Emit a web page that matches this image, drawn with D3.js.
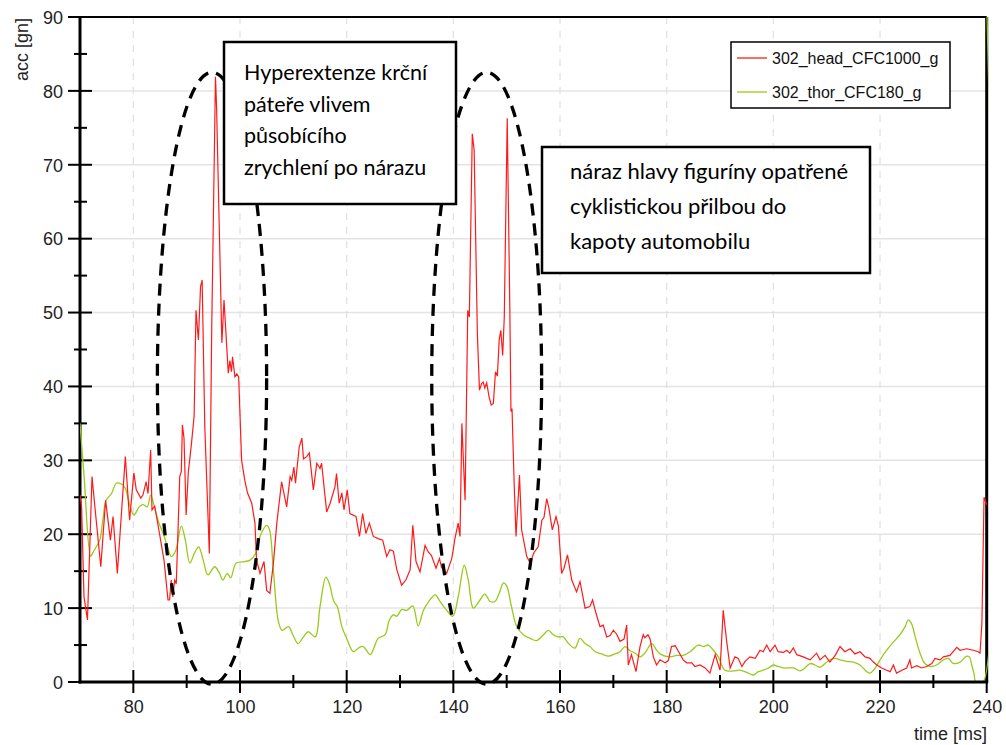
<!DOCTYPE html>
<html><head><meta charset="utf-8">
<script src="https://cdn.jsdelivr.net/npm/d3@7"></script>
<style>
html,body{margin:0;padding:0;background:#fff;}
svg{display:block;}
</style></head>
<body><svg id="chart" width="1006" height="745"></svg>
<script>
// ---------- data ----------
const seriesNames = ["302_head_CFC1000_g", "302_thor_CFC180_g"];
const xTicks = [80, 100, 120, 140, 160, 180, 200, 220, 240];
const yTicks = [0, 10, 20, 30, 40, 50, 60, 70, 80, 90];
const headTime = [70.0,70.3,70.75,71.4,72.25,72.9,73.9,74.8,75.7,76.2,77.0,78.5,79.3,80.1,80.55,81.4,81.8,82.4,82.75,83.25,83.5,84.0,84.3,84.9,85.75,86.5,86.8,87.1,87.4,87.75,88.05,88.4,88.7,89.0,89.2,89.5,89.9,90.3,90.9,91.4,91.75,92.2,92.6,92.9,93.4,94.25,94.7,95.4,95.6,96.6,97.0,97.8,98.1,98.4,98.6,99.05,99.4,99.75,100.3,100.9,101.4,102.2,102.8,103.1,103.75,104.5,105.0,105.6,106.25,106.9,107.8,108.75,109.4,109.7,110.1,110.4,111.1,111.6,111.9,112.5,113.0,113.75,114.4,115.0,115.3,116.25,116.9,117.8,118.1,118.6,119.1,119.5,120.1,120.6,121.75,122.4,123.0,123.6,124.25,125.0,125.9,126.75,127.5,128.1,128.75,129.4,130.3,131.1,131.9,132.4,133.0,133.75,134.7,135.3,135.9,136.75,137.4,137.8,138.75,139.7,140.3,140.9,141.25,141.6,142.2,142.7,143.0,143.55,143.9,144.5,144.9,145.3,145.6,145.9,146.25,146.7,147.1,147.5,147.9,148.25,148.6,148.9,149.25,149.55,150.1,150.6,150.8,151.0,151.4,151.75,152.4,152.8,153.75,154.4,155.1,155.9,156.6,157.0,157.5,157.9,158.55,159.25,159.7,160.3,160.75,161.4,162.2,163.1,163.75,164.7,165.6,166.1,166.75,167.5,168.1,168.75,169.4,170.0,170.6,171.25,172.0,172.5,172.8,173.4,174.25,175.0,175.6,175.9,176.5,176.9,177.5,178.1,178.75,179.7,180.3,180.9,181.6,182.4,183.1,183.75,184.7,185.3,186.25,187.2,188.1,189.1,190.0,190.6,191.25,191.9,192.8,193.4,194.1,194.7,195.6,196.6,197.5,198.1,198.75,199.4,200.3,200.9,201.9,202.5,203.1,203.75,204.4,205.6,206.9,208.1,208.75,209.7,210.6,211.6,212.5,213.4,214.4,215.3,216.25,217.2,218.1,218.75,219.4,220.3,221.25,221.9,222.5,223.1,224.1,225.0,225.6,225.9,226.9,227.8,228.75,229.7,230.3,231.25,231.9,233.1,234.4,235.0,236.25,237.5,238.4,238.75,239.1,239.5,240.0];
const headAcc = [25.3,23.7,11.5,8.4,27.8,22.9,15.6,24.6,19.2,22.4,14.7,30.5,21.9,28.3,26,24.9,25.3,27.1,25.5,31.4,23.3,23.8,22.6,20.1,16.5,11.1,11.1,13.8,11.5,13.8,13.3,21,27.8,28.5,34.8,33,22.6,28.3,32.3,36,50.3,46.3,53.5,54.4,34.5,17.4,48,81.9,78,45.9,51.7,41.8,43.5,42,44,41.3,41.7,41.3,30,27.3,25.6,24.2,21.5,16.5,14.7,16.3,12.4,12,16,21.5,27.1,23.7,27.8,27.3,29.1,26.9,31.8,33,30.2,30.5,31,26,29.6,28.9,29.6,23.0,24.2,26.4,28.2,24.2,25.6,23.3,26,22.8,22.4,19.7,22.8,20.1,21.5,19.7,19.4,19.2,17,17.9,17.7,15.2,13.1,13.8,15.2,21.2,16.3,14.9,18.5,17.6,17.1,15.4,16.7,15.5,14.7,16.7,19.4,21.5,19.7,35,24.6,50.3,49.4,74.2,72,47.2,39.5,40.4,40.6,39.8,40.5,38.6,37.5,37.7,42,41.4,46.3,47.6,44.2,49.4,76.3,49.9,36.6,37.0,26.9,19.7,28,20.6,17,16.1,17.5,18.3,21.9,22.3,24.8,23.6,20.6,22.4,21.1,14.7,15.4,17.2,13.8,12.2,13.6,10,10.2,11.1,9.3,7.5,7.7,6.1,6.3,7.0,6.5,5.5,5.8,7.7,2.3,3.7,1.4,4.8,6.4,6.0,6.4,5.8,3.4,2.3,3.0,2.6,2.9,4.8,4.9,3.9,3.0,2.6,2.6,2.1,2.3,1.9,1.2,3.7,1.6,9.7,5.5,1.9,3.4,3.2,2.1,2.8,3.4,3.2,4.3,4.1,5.0,4.1,5.0,4.1,4.0,4.3,3.9,4.6,3.7,3.4,3.0,3.9,3.0,3.6,2.7,3.6,4.8,4.1,4.5,3.8,4.1,3.4,3.2,2.7,2.3,1.9,1.6,1.4,2.3,1.2,1.6,1.9,3.0,1.9,2.2,1.9,2.1,2.5,3.2,3.0,3.4,3.6,4.7,4.3,4.5,4.3,4.1,3.9,8,25,24];
const thorTime = [70,70.75,72.0,72.4,73.05,73.7,74.3,74.9,75.9,76.8,77.75,78.5,79.1,80.1,81.1,81.8,82.6,83.25,84.1,84.8,85.6,86.4,87.1,87.9,89.0,89.75,90.6,91.5,92.25,93.1,94.0,95.25,96.1,96.8,97.6,98.25,99.3,100.9,101.9,103.0,103.75,105.0,105.5,106.25,107.2,107.9,109.1,109.9,110.9,111.9,112.8,114.1,115.0,116.1,116.75,117.6,118.25,119.1,120.0,121.25,122.2,123.1,124.4,125.1,125.9,127.2,128.0,128.75,129.4,130.3,131.25,132.4,133.4,134.4,135.3,136.6,137.5,138.75,139.9,140.9,142.05,142.8,143.75,145.0,145.9,146.9,147.8,148.6,149.4,150.0,150.9,151.9,153.1,154.4,155.6,156.9,157.8,158.75,159.7,160.6,161.6,162.8,163.75,164.7,165.6,166.6,167.8,169.1,170.3,171.25,172.2,173.0,174.1,175.0,175.9,177.2,178.1,179.0,180.6,181.9,183.1,184.4,185.9,186.9,187.8,188.75,189.7,190.9,192.5,193.75,195.0,196.25,197.2,198.1,199.1,200.0,200.9,201.9,203.75,205.0,205.9,206.9,207.8,208.75,209.7,210.6,211.6,212.5,213.75,215.0,216.25,217.5,218.1,219.1,220.0,221.25,222.5,223.75,224.7,225.3,225.9,226.6,227.5,228.4,229.4,230.6,231.9,232.8,233.75,235.0,236.25,236.75,237.2,237.6,238.0,239.3,240.0];
const thorAcc = [35,28,17,17.5,18.3,19.2,22,24.6,25.5,26.9,26.8,26.2,24.6,22.6,23.7,24.0,23.7,25.3,23.3,21.5,20.1,18.3,17,17.7,21.1,19.2,16.1,17.5,18.3,16.5,14.5,15.6,14.8,13.8,14.7,14.1,16.1,16.3,16.5,17.5,19.7,21.2,20.7,15.2,8.2,7.0,7.5,6.4,5.2,6.1,6.8,6.1,10.2,14.2,13.3,10.9,10.2,7.5,5.9,4.1,4.6,4.8,3.7,4.6,5.9,6.4,8.4,9.1,8.9,9.8,9.7,10.3,7.6,9.7,10.8,11.8,10.9,9.7,8.9,11.5,15.8,13.8,10.0,11.1,11.9,10.9,10.9,12.0,13.4,13.0,10.2,7.5,6.4,5.9,5.6,6.4,7.0,6.4,6.1,6.1,5.2,4.6,5.9,5.2,4.8,4.1,3.8,3.5,3.8,4.1,4.8,4.3,3.9,3.4,3.9,5.2,4.3,3.7,3.4,3.6,3.6,4.1,5.0,4.8,5.0,4.3,3.4,1.6,1.5,1.6,1.3,0.95,1.4,1.6,1.9,2.3,2.1,1.9,1.9,1.5,1.9,2.5,2.3,2.0,2.5,3.0,3.2,3.0,2.8,2.7,2.3,1.4,1.2,1.9,3.0,4.3,5.4,6.4,7.5,8.4,7.9,6.1,3.9,2.5,2.1,2.3,3.0,3.2,2.5,2.7,3.5,3.4,2.3,1.2,0,0,92];
const note1Lines = ["Hyperextenze krční", "páteře vlivem", "působícího", "zrychlení po nárazu"];
const note2Lines = ["náraz hlavy figuríny opatřené", "cyklistickou přilbou do", "kapoty automobilu"];
const axisTitles = {x: "time [ms]", y: "acc [gn]"};

// ---------- setup ----------
const colors = ["#ff1a1a", "#99c91c"];
const L = 80, R = 986.7, T = 17, B = 682;
const x = d3.scaleLinear().domain([70, 240]).range([L, R]);
const y = d3.scaleLinear().domain([0, 90]).range([B, T]);
const svg = d3.select("#chart");
const font = "'Liberation Sans', Arial, sans-serif";

// clip
svg.append("defs").append("clipPath").attr("id", "plotclip")
  .append("rect").attr("x", L).attr("y", T).attr("width", R - L + 1.5).attr("height", B - T);

// grid
const grid = svg.append("g");
grid.selectAll("line.h").data(yTicks.filter(d => d > 0 && d < 90)).join("line")
  .attr("x1", L).attr("x2", R).attr("y1", d => y(d)).attr("y2", d => y(d))
  .attr("stroke", "#e4e4e4").attr("stroke-width", 1.5);
grid.selectAll("line.v").data(xTicks.filter(d => d < 240)).join("line")
  .attr("x1", d => x(d)).attr("x2", d => x(d)).attr("y1", T).attr("y2", B)
  .attr("stroke", "#e2e2e2").attr("stroke-width", 1.3).attr("stroke-dasharray", "7,7");

// axes
const xAxis = d3.axisBottom(x).tickValues(xTicks).tickSize(0).tickPadding(0);
const gx = svg.append("g").attr("transform", `translate(0,${B})`).call(xAxis);
gx.select(".domain").remove();
gx.selectAll("text").attr("y", 31).attr("dy", 0).attr("font-size", 18).attr("font-family", font).attr("fill", "#222");

const yAxis = d3.axisLeft(y).tickValues(yTicks).tickSize(0).tickPadding(0);
const gy = svg.append("g").attr("transform", `translate(${L},0)`).call(yAxis);
gy.select(".domain").remove();
gy.selectAll("text").attr("x", -17).attr("dy", "0.35em").attr("font-size", 18).attr("font-family", font).attr("fill", "#222");

// tick marks (major cross axis, minor shorter)
const xMinor = d3.range(90, 240, 20);
const yMinor = d3.range(5, 90, 10);
const tk = svg.append("g").attr("stroke", "#000").attr("stroke-width", 2);
tk.selectAll("line.xM").data(xTicks).join("line")
  .attr("x1", d => x(d)).attr("x2", d => x(d)).attr("y1", B - 12).attr("y2", B + 11);
tk.selectAll("line.xm").data(xMinor).join("line")
  .attr("x1", d => x(d)).attr("x2", d => x(d)).attr("y1", B - 7).attr("y2", B + 6);
tk.selectAll("line.yM").data(yTicks).join("line")
  .attr("x1", L - 12).attr("x2", L + 12).attr("y1", d => y(d)).attr("y2", d => y(d));
tk.selectAll("line.ym").data(yMinor).join("line")
  .attr("x1", L - 6).attr("x2", L + 7).attr("y1", d => y(d)).attr("y2", d => y(d));

// frame
svg.append("line").attr("x1", L).attr("x2", R).attr("y1", T).attr("y2", T).attr("stroke", "#000").attr("stroke-width", 2);
svg.append("line").attr("x1", R).attr("x2", R).attr("y1", T).attr("y2", B).attr("stroke", "#000").attr("stroke-width", 3);
svg.append("line").attr("x1", L).attr("x2", L).attr("y1", T).attr("y2", B + 1.5).attr("stroke", "#000").attr("stroke-width", 3);

// series
const headData = headTime.map((t, i) => [t, headAcc[i]]);
const thorData = thorTime.map((t, i) => [t, thorAcc[i]]);
const plot = svg.append("g").attr("clip-path", "url(#plotclip)");
plot.append("path").datum(thorData)
  .attr("d", d3.line().x(d => x(d[0])).y(d => y(d[1])).curve(d3.curveCatmullRom.alpha(0.5)))
  .attr("fill", "none").attr("stroke", colors[1]).attr("stroke-width", 1.3);
plot.append("path").datum(headData)
  .attr("d", d3.line().x(d => x(d[0])).y(d => y(d[1])))
  .attr("fill", "none").attr("stroke", colors[0]).attr("stroke-width", 1.2);

svg.append("line").attr("x1", L - 1.5).attr("x2", R + 1.5).attr("y1", B).attr("y2", B).attr("stroke", "#000").attr("stroke-width", 3);

// axis titles
svg.append("text").attr("x", 987).attr("y", 740).attr("text-anchor", "end")
  .attr("font-size", 18).attr("font-family", font).attr("fill", "#222").text(axisTitles.x);
svg.append("text").attr("transform", "translate(28,18) rotate(-90)").attr("text-anchor", "end")
  .attr("font-size", 18).attr("font-family", font).attr("fill", "#222").text(axisTitles.y);

// ellipses (annotation), positioned in data coordinates
const ellipses = [{t: 94.75, v: 41.1, rt: 10.24, rv: 41.4}, {t: 146.25, v: 41.1, rt: 10.3, rv: 41.4}];
svg.selectAll("ellipse.ann").data(ellipses).join("ellipse")
  .attr("cx", d => x(d.t)).attr("cy", d => y(d.v))
  .attr("rx", d => x(d.t + d.rt) - x(d.t)).attr("ry", d => y(d.v - d.rv) - y(d.v))
  .attr("fill", "none").attr("stroke", "#000").attr("stroke-width", 3.3).attr("stroke-dasharray", "12,8");

// annotation boxes
const noteFont = "Lato, 'Open Sans', sans-serif";
function note(x0, y0, w, h, lines, tx, ty0, lh, fs) {
  const g = svg.append("g");
  g.append("rect").attr("x", x0).attr("y", y0).attr("width", w).attr("height", h)
    .attr("fill", "#fff").attr("stroke", "#000").attr("stroke-width", 2.5);
  g.selectAll("text").data(lines).join("text")
    .attr("x", tx).attr("y", (d, i) => ty0 + i * lh)
    .attr("font-size", fs).attr("font-family", noteFont).attr("fill", "#000").text(d => d);
}
note(224, 42, 232, 162, note1Lines, 244, 80, 31.7, 21.5);
note(542, 147, 328, 126, note2Lines, 570, 179, 34.8, 22);

// legend
const lg = svg.append("g");
lg.append("rect").attr("x", 731).attr("y", 42).attr("width", 219).attr("height", 66)
  .attr("fill", "#fff").attr("stroke", "#000").attr("stroke-width", 1.5);
seriesNames.forEach((n, i) => {
  const yy = 58 + i * 34;
  lg.append("line").attr("x1", 737).attr("x2", 767).attr("y1", yy).attr("y2", yy)
    .attr("stroke", colors[i]).attr("stroke-width", 1.3);
  lg.append("text").attr("x", 772).attr("y", yy + 6).attr("font-size", 16)
    .attr("font-family", font).attr("fill", "#111").text(n);
});
</script></body></html>
